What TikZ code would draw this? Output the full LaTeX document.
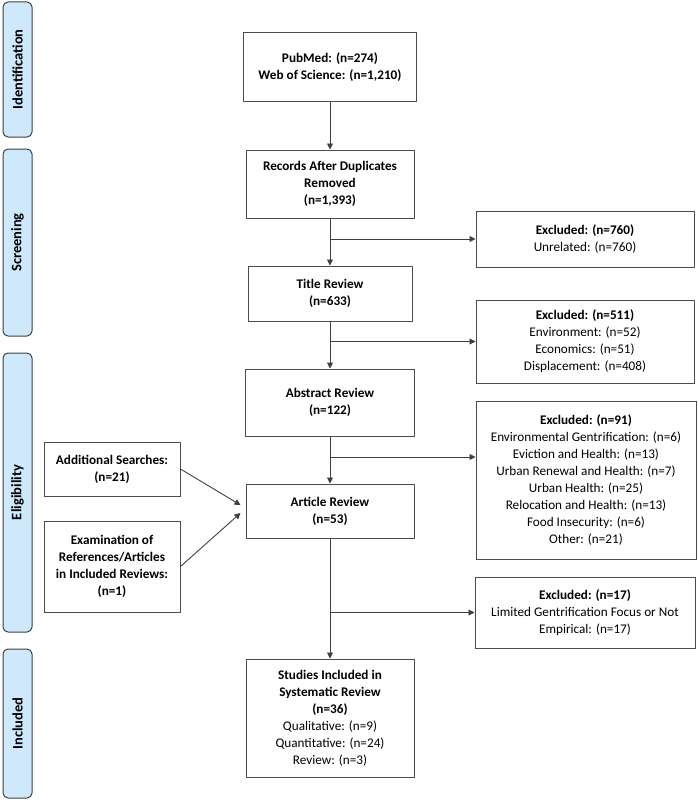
\documentclass[tikz,border=0pt]{standalone}
\usepackage{fontspec}
\setmainfont{Carlito}
\usepackage{tikz}
\usetikzlibrary{calc,arrows.meta}

\definecolor{phaseblue}{RGB}{207,233,252}
\tikzset{
  box/.style={draw=black!70, line width=1pt, align=center, inner sep=0pt, font=\fontsize{13.2}{17}\selectfont},
  phase/.style={draw=black!75, fill=phaseblue, rounded corners=5pt, line width=1pt, inner sep=0pt, rotate=90, minimum height=29pt, font=\bfseries\fontsize{14.5}{16}\selectfont},
  arr/.style={-{Triangle[length=6pt,width=6pt]}, black!75, line width=0.9pt}
}

\begin{document}
\begin{tikzpicture}[x=1pt, y=-1pt]
\useasboundingbox (0,0) rectangle (698,800);

\node[phase, minimum width=135pt] (ident) at (17.5,69.5) {Identification};
\node[phase, minimum width=187pt] (screen) at (17.5,242.5) {Screening};
\node[phase, minimum width=279pt] (elig) at (17.5,492.5) {Eligibility};
\node[phase, minimum width=149pt] (incl) at (17.5,723.5) {Included};

\node[box, minimum width=173pt, minimum height=68pt] (src) at (330,67) {\textbf{PubMed: (n=274)}\\\textbf{Web of Science: (n=1,210)}};
\node[box, minimum width=168pt, minimum height=68pt] (dedup) at (330,184) {\textbf{Records After Duplicates}\\\textbf{Removed}\\\textbf{(n=1,393)}};
\node[box, minimum width=164pt, minimum height=55pt] (title) at (330,293.5) {\textbf{Title Review}\\\textbf{(n=633)}};
\node[box, minimum width=169pt, minimum height=67pt] (abstract) at (330,402.5) {\textbf{Abstract Review}\\\textbf{(n=122)}};
\node[box, minimum width=168pt, minimum height=54pt] (article) at (330,511) {\textbf{Article Review}\\\textbf{(n=53)}};
\node[box, minimum width=168pt, minimum height=118pt] (studies) at (330,718) {\textbf{Studies Included in}\\\textbf{Systematic Review}\\\textbf{(n=36)}\\Qualitative: (n=9)\\Quantitative: (n=24)\\Review: (n=3)};

\node[box, minimum width=218pt, minimum height=56pt] (ex1) at (585,239) {\textbf{Excluded: (n=760)}\\Unrelated: (n=760)};
\node[box, minimum width=218pt, minimum height=83pt] (ex2) at (585,341.5) {\textbf{Excluded: (n=511)}\\Environment: (n=52)\\Economics: (n=51)\\Displacement: (n=408)};
\node[box, minimum width=220pt, minimum height=158pt] (ex3) at (586,480) {\textbf{Excluded: (n=91)}\\Environmental Gentrification: (n=6)\\Eviction and Health: (n=13)\\Urban Renewal and Health: (n=7)\\Urban Health: (n=25)\\Relocation and Health: (n=13)\\Food Insecurity: (n=6)\\Other: (n=21)};
\node[box, minimum width=220pt, minimum height=71pt] (ex4) at (585,612.5) {\textbf{Excluded: (n=17)}\\Limited Gentrification Focus or Not\\Empirical: (n=17)};

\node[box, font=\bfseries\fontsize{13.2}{17}\selectfont, minimum width=136pt, minimum height=54pt] (add) at (112,469) {Additional Searches:\\(n=21)};
\node[box, font=\bfseries\fontsize{13.2}{17}\selectfont, minimum width=136pt, minimum height=91pt] (exam) at (112,566.5) {Examination of\\References/Articles\\in Included Reviews:\\(n=1)};

\draw[arr] (src) -- (dedup);
\draw[arr] (dedup) -- (title);
\draw[arr] (title) -- (abstract);
\draw[arr] (abstract) -- (article);
\draw[arr] (article) -- (studies);

\coordinate (ex3in) at ([yshift=23pt]ex3.west);
\draw[arr] (dedup.south |- ex1.west) -- (ex1.west);
\draw[arr] (title.south |- ex2.west) -- (ex2.west);
\draw[arr] (abstract.south |- ex3in) -- (ex3in);
\draw[arr] (article.south |- ex4.west) -- (ex4.west);

\draw[arr] (add.east) -- ([xshift=-5pt,yshift=6pt]article.west);
\draw[arr] (exam.east) -- ([xshift=-5pt,yshift=-2pt]article.west);
\end{tikzpicture}
\end{document}
